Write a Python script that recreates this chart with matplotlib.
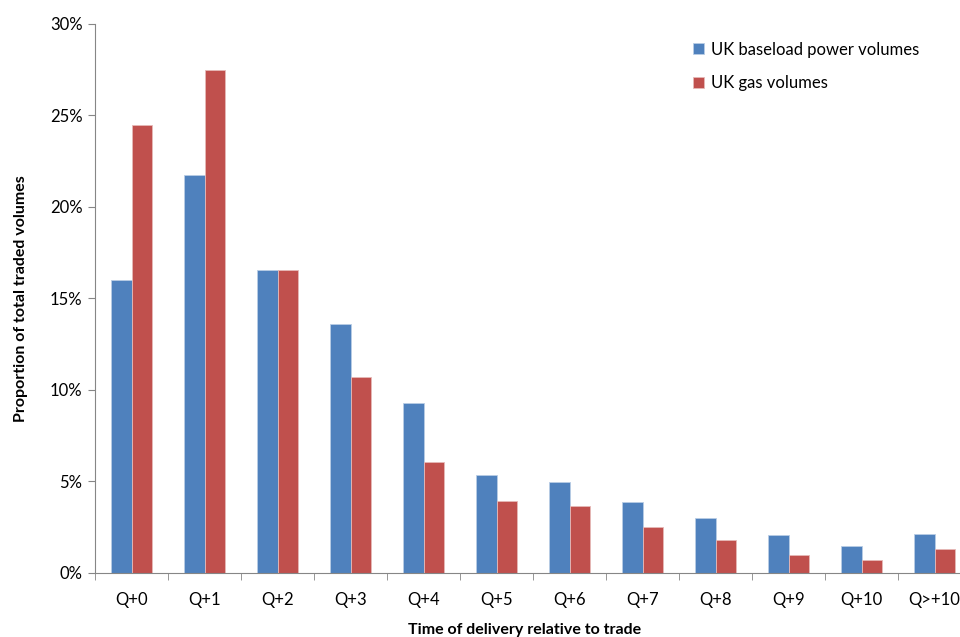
'''
Share of UK traded volumes by time of delivery relative to trade.
'''

import numpy as np
import matplotlib.pyplot as plt
from matplotlib.ticker import PercentFormatter

plt.rcParams['font.family'] = ['Lato', 'DejaVu Sans']

# Quarters ahead of delivery
quarters = ['Q+0', 'Q+1', 'Q+2', 'Q+3', 'Q+4', 'Q+5', 'Q+6',
            'Q+7', 'Q+8', 'Q+9', 'Q+10', 'Q>+10']
power = [16.0, 21.75, 16.55, 13.6, 9.3, 5.35, 4.95, 3.9, 3.0, 2.1, 1.45, 2.15]
gas = [24.45, 27.5, 16.55, 10.7, 6.05, 3.95, 3.65, 2.5, 1.8, 1.0, 0.7, 1.3]

fig = plt.figure(figsize=(9.6, 6.37), dpi=100)
ax = fig.add_axes([0.099, 0.1005, 0.9125, 0.862])

x = np.arange(len(quarters))
w = 0.28
ax.bar(x - w / 2, power, w, color='#4F81BD', edgecolor='#B9CDE5', linewidth=0.6,
       label='UK baseload power volumes')
ax.bar(x + w / 2, gas, w, color='#C0504D', edgecolor='#E6B9B8', linewidth=0.6,
       label='UK gas volumes')

ax.set_xlim(-0.5, len(quarters) - 0.5)
ax.set_ylim(0, 30)
ax.set_yticks(range(0, 31, 5))
ax.yaxis.set_major_formatter(PercentFormatter(decimals=0))
ax.set_xticks(x)
ax.set_xticklabels(quarters)
ax.set_xticks(np.arange(-0.5, len(quarters)), minor=True)
ax.tick_params(axis='x', which='major', length=0, pad=14, labelsize=12)
ax.tick_params(axis='x', which='minor', length=5, color='#868686', direction='out')
ax.tick_params(axis='y', length=5, color='#868686', labelsize=12, pad=4)

for side in ['top', 'right']:
    ax.spines[side].set_visible(False)
for side in ['left', 'bottom']:
    ax.spines[side].set_color('#868686')

ax.set_ylabel('Proportion of total traded volumes', fontsize=11.5, fontweight='bold')
ax.yaxis.set_label_coords(-0.077, 0.5)
ax.set_xlabel('Time of delivery relative to trade', fontsize=11.5, fontweight='bold')
ax.xaxis.set_label_coords(0.49, -0.092)

ax.legend(loc='upper left', bbox_to_anchor=(0.666, 0.995), frameon=False,
          fontsize=12, handlelength=0.65, handleheight=0.65, handletextpad=0.4,
          labelspacing=1.05)

plt.savefig('out.png')
